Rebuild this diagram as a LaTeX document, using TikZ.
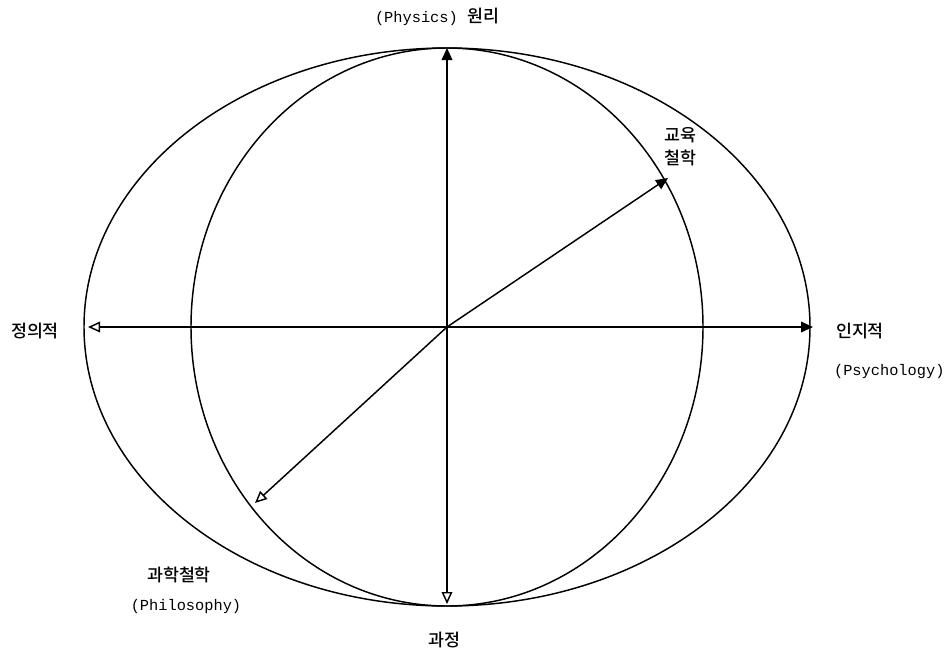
\documentclass[tikz,border=0pt]{standalone}
\usepackage{fontspec}
\setmainfont{Liberation Mono}
\newfontfamily\kr{Noto Sans CJK KR Medium}
\usetikzlibrary{arrows.meta,positioning}

\begin{document}
\begin{tikzpicture}[x=0.75pt,y=-0.75pt,line width=1.1pt,
  tipfill/.style={-{Triangle[length=9pt,width=8pt]}},
  tipopen/.style={-{Triangle[open,length=9pt,width=8pt]}},
  lbl/.style={font=\fontsize{11.5}{13}\selectfont,inner sep=1pt,align=center},
  krlbl/.style={font=\fontsize{13}{17}\selectfont\kr,inner sep=1pt,align=center}]
  \useasboundingbox (0,0) rectangle (951,654);
  % Centre and ends
  \coordinate (O) at (447,327);
  \coordinate (N) at (447,48);
  \coordinate (S) at (447,604);
  \coordinate (W) at (88,327);
  \coordinate (E) at (813,327);
  \coordinate (NE) at (668,178);
  \coordinate (SW) at (255,503);
  % Ellipses
  \draw (O) ellipse [x radius=272.25pt, y radius=209.25pt];
  \draw (O) ellipse [x radius=192pt, y radius=209.25pt];
  % Axes
  \draw[{Triangle[open,length=9pt,width=8pt]}-{Triangle[length=9pt,width=8pt]}] (W) -- (E);
  \draw[{Triangle[open,length=9pt,width=8pt]}-{Triangle[length=9pt,width=8pt]}] (S) -- (N);
  \draw[tipfill] (O) -- (NE);
  \draw[tipopen] (O) -- (SW);
  % Labels
  \node[lbl] (top) at (437,17) {(Physics) {\fontsize{13}{15}\selectfont\kr 원리}};
  \node[krlbl] (edu) at (680,147) {교육\\철학};
  \node[krlbl] (aff) at (35,331) {정의적};
  \node[krlbl,anchor=west] (cog) at (834,331) {인지적};
  \node[lbl,anchor=west] (psy) at (832,372) {(Psychology)};
  \node[krlbl] (sci) at (179,575) {과학철학};
  \node[lbl] (phi) at (186,607) {(Philosophy)};
  \node[krlbl] (proc) at (444,640) {과정};
\end{tikzpicture}
\end{document}
